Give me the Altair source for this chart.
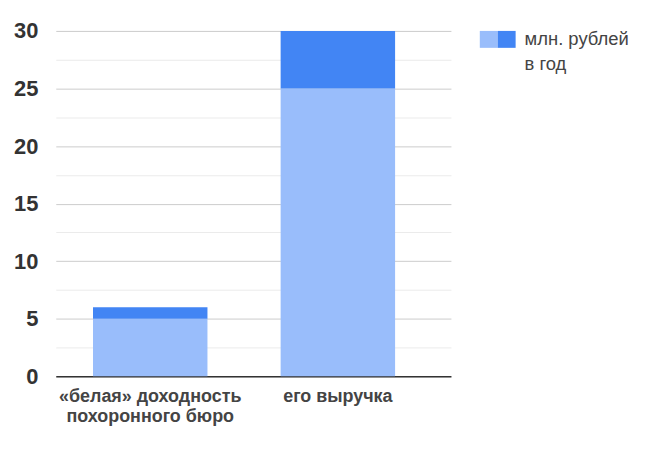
import altair as alt
import pandas as pd

# ---- data ----
categories = ["«белая» доходность\nпохоронного бюро", "его выручка"]
base_values = [5, 25]      # light blue segment
top_values = [1, 5]        # dark blue segment (stacked on top)
series_names = ["основа", "сверху"]
series_colors = ["#99bdfb", "#4285f4"]
legend_lines = ["млн. рублей", "в год"]
y_ticks = [0, 2.5, 5, 7.5, 10, 12.5, 15, 17.5, 20, 22.5, 25, 27.5, 30]

rows = []
for c, b, t in zip(categories, base_values, top_values):
    rows.append({"cat": c, "series": series_names[0], "value": b, "ord": 0})
    rows.append({"cat": c, "series": series_names[1], "value": t, "ord": 1})
df = pd.DataFrame(rows)

bars = alt.Chart(df).mark_bar().encode(
    x=alt.X(
        "cat:N",
        sort=categories,
        title=None,
        scale=alt.Scale(paddingInner=0.39, paddingOuter=0.248, align=0.4),
        axis=alt.Axis(
            labelAngle=0,
            labelExpr="split(datum.label, '\\n')",
            labelFont="Liberation Sans",
            labelFontSize=18,
            labelFontWeight="bold",
            labelColor="#444444",
            labelLineHeight=20,
            labelPadding=11,
            labelLimit=400,
            ticks=False,
            domainColor="#333333",
            domainWidth=1.5,
            grid=False,
        ),
    ),
    y=alt.Y(
        "value:Q",
        stack="zero",
        title=None,
        scale=alt.Scale(domain=[0, 30], nice=False),
        axis=alt.Axis(
            values=y_ticks,
            labelExpr="datum.value % 5 === 0 ? datum.label : ''",
            labelFont="Liberation Sans",
            labelFontSize=22,
            labelFontWeight="bold",
            labelColor="#333333",
            labelPadding=18,
            ticks=False,
            domain=False,
            gridColor={"condition": {"test": "datum.value % 5 === 0", "value": "#cccccc"}, "value": "#ebebeb"},
            gridWidth=1,
        ),
    ),
    color=alt.Color("series:N", scale=alt.Scale(domain=series_names, range=series_colors), legend=None),
    order=alt.Order("ord:Q"),
)

leg_df = pd.DataFrame({"a": [0]})
sw_light = alt.Chart(leg_df).mark_rect(color=series_colors[0]).encode(
    x=alt.value(426), x2=alt.value(444), y=alt.value(0), y2=alt.value(17)
)
sw_dark = alt.Chart(leg_df).mark_rect(color=series_colors[1]).encode(
    x=alt.value(444), x2=alt.value(462), y=alt.value(0), y2=alt.value(17)
)
t1 = alt.Chart(leg_df).mark_text(
    align="left", baseline="middle", font="Liberation Sans", fontSize=18.5, color="#444444"
).encode(x=alt.value(471), y=alt.value(8), text=alt.value(legend_lines[0]))
t2 = alt.Chart(leg_df).mark_text(
    align="left", baseline="middle", font="Liberation Sans", fontSize=18.5, color="#444444"
).encode(x=alt.value(471), y=alt.value(33), text=alt.value(legend_lines[1]))

chart = alt.layer(bars, sw_light, sw_dark, t1, t2).properties(
    width=397,
    height=347,
    autosize=alt.AutoSizeParams(type="none"),
    padding={"left": 48, "top": 22, "right": 200, "bottom": 70},
    background="white",
).configure_view(stroke=None)

chart.save("out.html", embed_options={"renderer": "svg", "actions": False})
